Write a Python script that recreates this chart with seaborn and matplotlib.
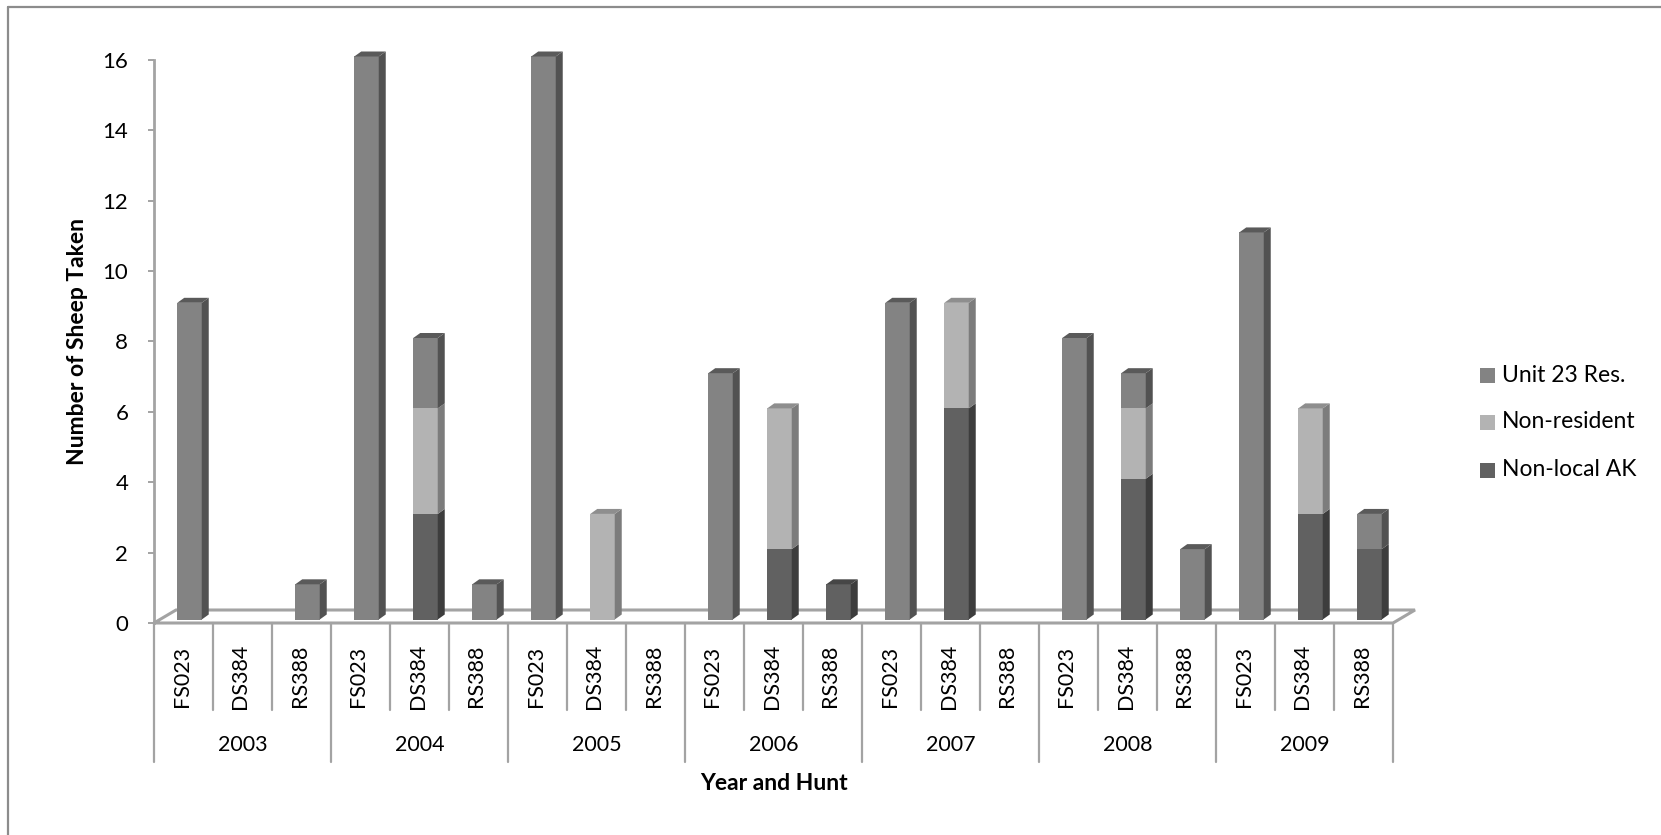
import matplotlib
matplotlib.use("Agg")
import matplotlib.pyplot as plt
import numpy as np
import pandas as pd
import seaborn as sns
from matplotlib.patches import Polygon, Rectangle
from matplotlib.lines import Line2D
from matplotlib.transforms import offset_copy, IdentityTransform

# ---- data -------------------------------------------------------------
years = ["2003", "2004", "2005", "2006", "2007", "2008", "2009"]
hunts = ["FS023", "DS384", "RS388"]
series_names = ["Unit 23 Res.", "Non-resident", "Non-local AK"]

# one value per (year, hunt), hunts in the order FS023, DS384, RS388
non_local_ak = [0, 0, 0,  0, 3, 0,  0, 0, 0,  0, 2, 1,  0, 6, 0,  0, 4, 0,  0, 3, 2]
non_resident = [0, 0, 0,  0, 3, 0,  0, 3, 0,  0, 4, 0,  0, 3, 0,  0, 2, 0,  0, 3, 0]
unit23_res   = [9, 0, 1, 16, 2, 1, 16, 0, 0,  7, 0, 0,  9, 0, 0,  8, 1, 2, 11, 0, 1]

y_ticks = [0, 2, 4, 6, 8, 10, 12, 14, 16]

# front / side / top shades for each series
front_col = {"Unit 23 Res.": "#838383", "Non-resident": "#b3b3b3", "Non-local AK": "#616161"}
side_col = {"Unit 23 Res.": "#525252", "Non-resident": "#7c7c7c", "Non-local AK": "#3d3d3d"}
top_col = {"Unit 23 Res.": "#5a5a5a", "Non-resident": "#8e8e8e", "Non-local AK": "#464646"}

FONT = ["Lato", "DejaVu Sans"]
GRID = "#a3a3a3"

W, H = 1661, 835
sns.set_theme(style="white")
plt.rcParams["font.family"] = FONT

fig = plt.figure(figsize=(W / 100, H / 100), dpi=100)
fig.patch.set_facecolor("white")

# plot area in pixels (top-left origin)
ax_l, ax_r, ax_t, ax_b = 154, 1393, 60, 623
ax = fig.add_axes([ax_l / W, 1 - ax_b / H, (ax_r - ax_l) / W, (ax_b - ax_t) / H])
ax.set_facecolor("none")
ax.set_zorder(2)

keys = [f"{y} {h}" for y in years for h in hunts]
df = pd.DataFrame({
    "key": keys,
    "Non-local AK": non_local_ak,
    "Non-resident": non_resident,
    "Unit 23 Res.": unit23_res,
})

stack_order = ["Non-local AK", "Non-resident", "Unit 23 Res."]
bar_w = 0.415
bottoms = np.zeros(len(keys))
segments = []  # (series, x index, bottom, top)
for name in stack_order:
    sns.barplot(data=df, x="key", y=name, order=keys, color=front_col[name],
                width=bar_w, bottom=bottoms, saturation=1, linewidth=0,
                errorbar=None, ax=ax)
    for i, v in enumerate(df[name]):
        if v > 0:
            segments.append((name, i, bottoms[i], bottoms[i] + v))
    bottoms = bottoms + df[name].to_numpy()

ax.set_xlim(-0.5, len(keys) - 0.5)
ax.set_ylim(0, 16)

# bars sit a little behind the front edge of the floor
shift_x, shift_y = 6, 3.5
bar_trans = offset_copy(ax.transData, fig=fig, x=shift_x, y=shift_y, units="dots")
for p in ax.patches:
    p.set_transform(bar_trans)
    p.set_clip_on(False)
    p.set_zorder(3)

# depth faces of each bar segment
dx, dy = 7, 5
top_of = {}
for name, i, b, t in segments:
    top_of[i] = max(top_of.get(i, 0), t)
fig.canvas.draw()
for name, i, b, t in segments:
    (X0, Y0) = bar_trans.transform((i - bar_w / 2, b))
    (X1, Y1) = bar_trans.transform((i + bar_w / 2, t))
    side = Polygon([(X1, Y0), (X1 + dx, Y0 + dy), (X1 + dx, Y1 + dy), (X1, Y1)],
                   closed=True, facecolor=side_col[name], edgecolor="none",
                   transform=IdentityTransform(), clip_on=False, zorder=3)
    fig.add_artist(side)
    if t == top_of[i]:
        top = Polygon([(X0, Y1), (X0 + dx, Y1 + dy), (X1 + dx, Y1 + dy), (X1, Y1)],
                      closed=True, facecolor=top_col[name], edgecolor="none",
                      transform=IdentityTransform(), clip_on=False, zorder=3)
        fig.add_artist(top)

# axes styling: only the value axis is kept
for s in ["top", "right", "bottom"]:
    ax.spines[s].set_visible(False)
ax.spines["left"].set_color(GRID)
ax.spines["left"].set_linewidth(2.0)
ax.set_yticks(y_ticks)
ax.set_yticklabels([str(v) for v in y_ticks])
ax.tick_params(axis="y", which="major", left=True, length=4.5, width=1.4,
               color=GRID, pad=14, labelsize=16, labelcolor="black")
ax.set_xticks([])
ax.set_xlabel("")
ax.set_ylabel("")
ax.grid(False)


def fig_line(xs, ys, **kw):
    """Line in pixel coordinates measured from the top-left corner."""
    fig.add_artist(Line2D([x / W for x in xs], [1 - y / H for y in ys],
                          transform=fig.transFigure, **kw))


def data_x_px(x):
    return ax.transData.transform((x, 0))[0]


# floor of the 3-D plot (drawn beneath the bars)
fx0, fx1 = data_x_px(-0.5), data_x_px(len(keys) - 0.5)
fdx, fdy = 22, 13
fig_line([fx0, fx1, fx1 + fdx, fx0 + fdx, fx0],
         [ax_b, ax_b, ax_b - fdy, ax_b - fdy, ax_b],
         color=GRID, lw=2.2, solid_joinstyle="miter", zorder=1)

# category table under the plot
for k in range(len(keys) + 1):
    xk = data_x_px(k - 0.5)
    y_end = 762 if k % 3 == 0 else 710
    fig_line([xk, xk], [ax_b, y_end], color=GRID, lw=1.6, zorder=1)

for i, key in enumerate(keys):
    xc = data_x_px(i) - 2
    fig.text(xc / W, 1 - 676 / H, hunts[i % 3], rotation=90, ha="center",
             va="center", fontsize=15.5, color="black", family=FONT)

for j, yr in enumerate(years):
    xc = data_x_px(3 * j + 1)
    fig.text(xc / W, 1 - 745 / H, yr, ha="center", va="center", fontsize=15.5,
             color="black", family=FONT)

fig.text(((fx0 + fx1) / 2) / W, 1 - 783 / H, "Year and Hunt", ha="center",
         va="center", fontsize=16.5, fontweight="bold", color="black", family=FONT)
fig.text(77 / W, 1 - 342 / H, "Number of Sheep Taken", rotation=90, ha="center",
         va="center", fontsize=16.5, fontweight="bold", color="black", family=FONT)

# legend
for r, name in enumerate(series_names):
    yc = [375, 422, 470][r]
    fig.add_artist(Rectangle((1480 / W, 1 - (yc + 7.5) / H), 15 / W, 15 / H,
                             transform=fig.transFigure, facecolor=front_col[name],
                             edgecolor="none"))
    fig.text(1502 / W, 1 - yc / H, name, ha="left", va="center", fontsize=16.5,
             color="black", family=FONT)

# chart-area border (left and top edges)
fig_line([8, 8], [H + 2, 7], color="#8c8c8c", lw=1.6)
fig_line([8, W + 2], [7, 7], color="#8c8c8c", lw=1.6)

fig.savefig("out.png", dpi=100, facecolor="white")
